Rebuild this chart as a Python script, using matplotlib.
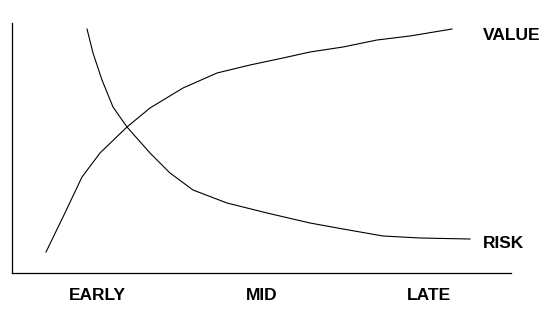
import matplotlib
matplotlib.use("Agg")
import matplotlib.pyplot as plt

# curve points (x: 0..499 across, y: 0..250 up)
VALUE_X = [34, 51, 70, 88, 115, 138, 171, 205, 238, 271, 298, 331, 365, 398, 440]
VALUE_Y = [21, 56, 96, 120, 146, 165, 185, 200, 208, 215, 221, 226, 233, 237, 244]
RISK_X = [75, 81, 90, 101, 115, 138, 158, 181, 215, 255, 298, 331, 371, 408, 458]
RISK_Y = [244, 220, 193, 166, 146, 120, 100, 83, 70, 60, 50, 44, 37, 35, 34]

STAGE_POS = [85, 250, 417]
STAGE_LABELS = ["EARLY", "MID", "LATE"]

plt.rcParams["font.family"] = ["Liberation Sans", "DejaVu Sans"]

fig = plt.figure(figsize=(5.5, 3.1), dpi=100)
ax = fig.add_axes([12 / 550, 37 / 310, 499 / 550, 250 / 310])

ax.plot(VALUE_X, VALUE_Y, color="black", linewidth=0.8)
ax.plot(RISK_X, RISK_Y, color="black", linewidth=0.8)

ax.text(471, VALUE_Y[-1] - 6, "VALUE", fontsize=12.5, fontweight="bold",
        ha="left", va="center", clip_on=False)
ax.text(471, RISK_Y[-1] - 5, "RISK", fontsize=12.5, fontweight="bold",
        ha="left", va="center", clip_on=False)

ax.set_xlim(0, 499)
ax.set_ylim(0, 250)
ax.set_xticks(STAGE_POS)
ax.set_xticklabels(STAGE_LABELS, fontsize=12.5, fontweight="bold")
ax.tick_params(axis="x", length=0, pad=11)
ax.set_yticks([])
for side in ["top", "right"]:
    ax.spines[side].set_visible(False)
for side in ["left", "bottom"]:
    ax.spines[side].set_linewidth(0.9)

fig.savefig("out.png", dpi=100)
